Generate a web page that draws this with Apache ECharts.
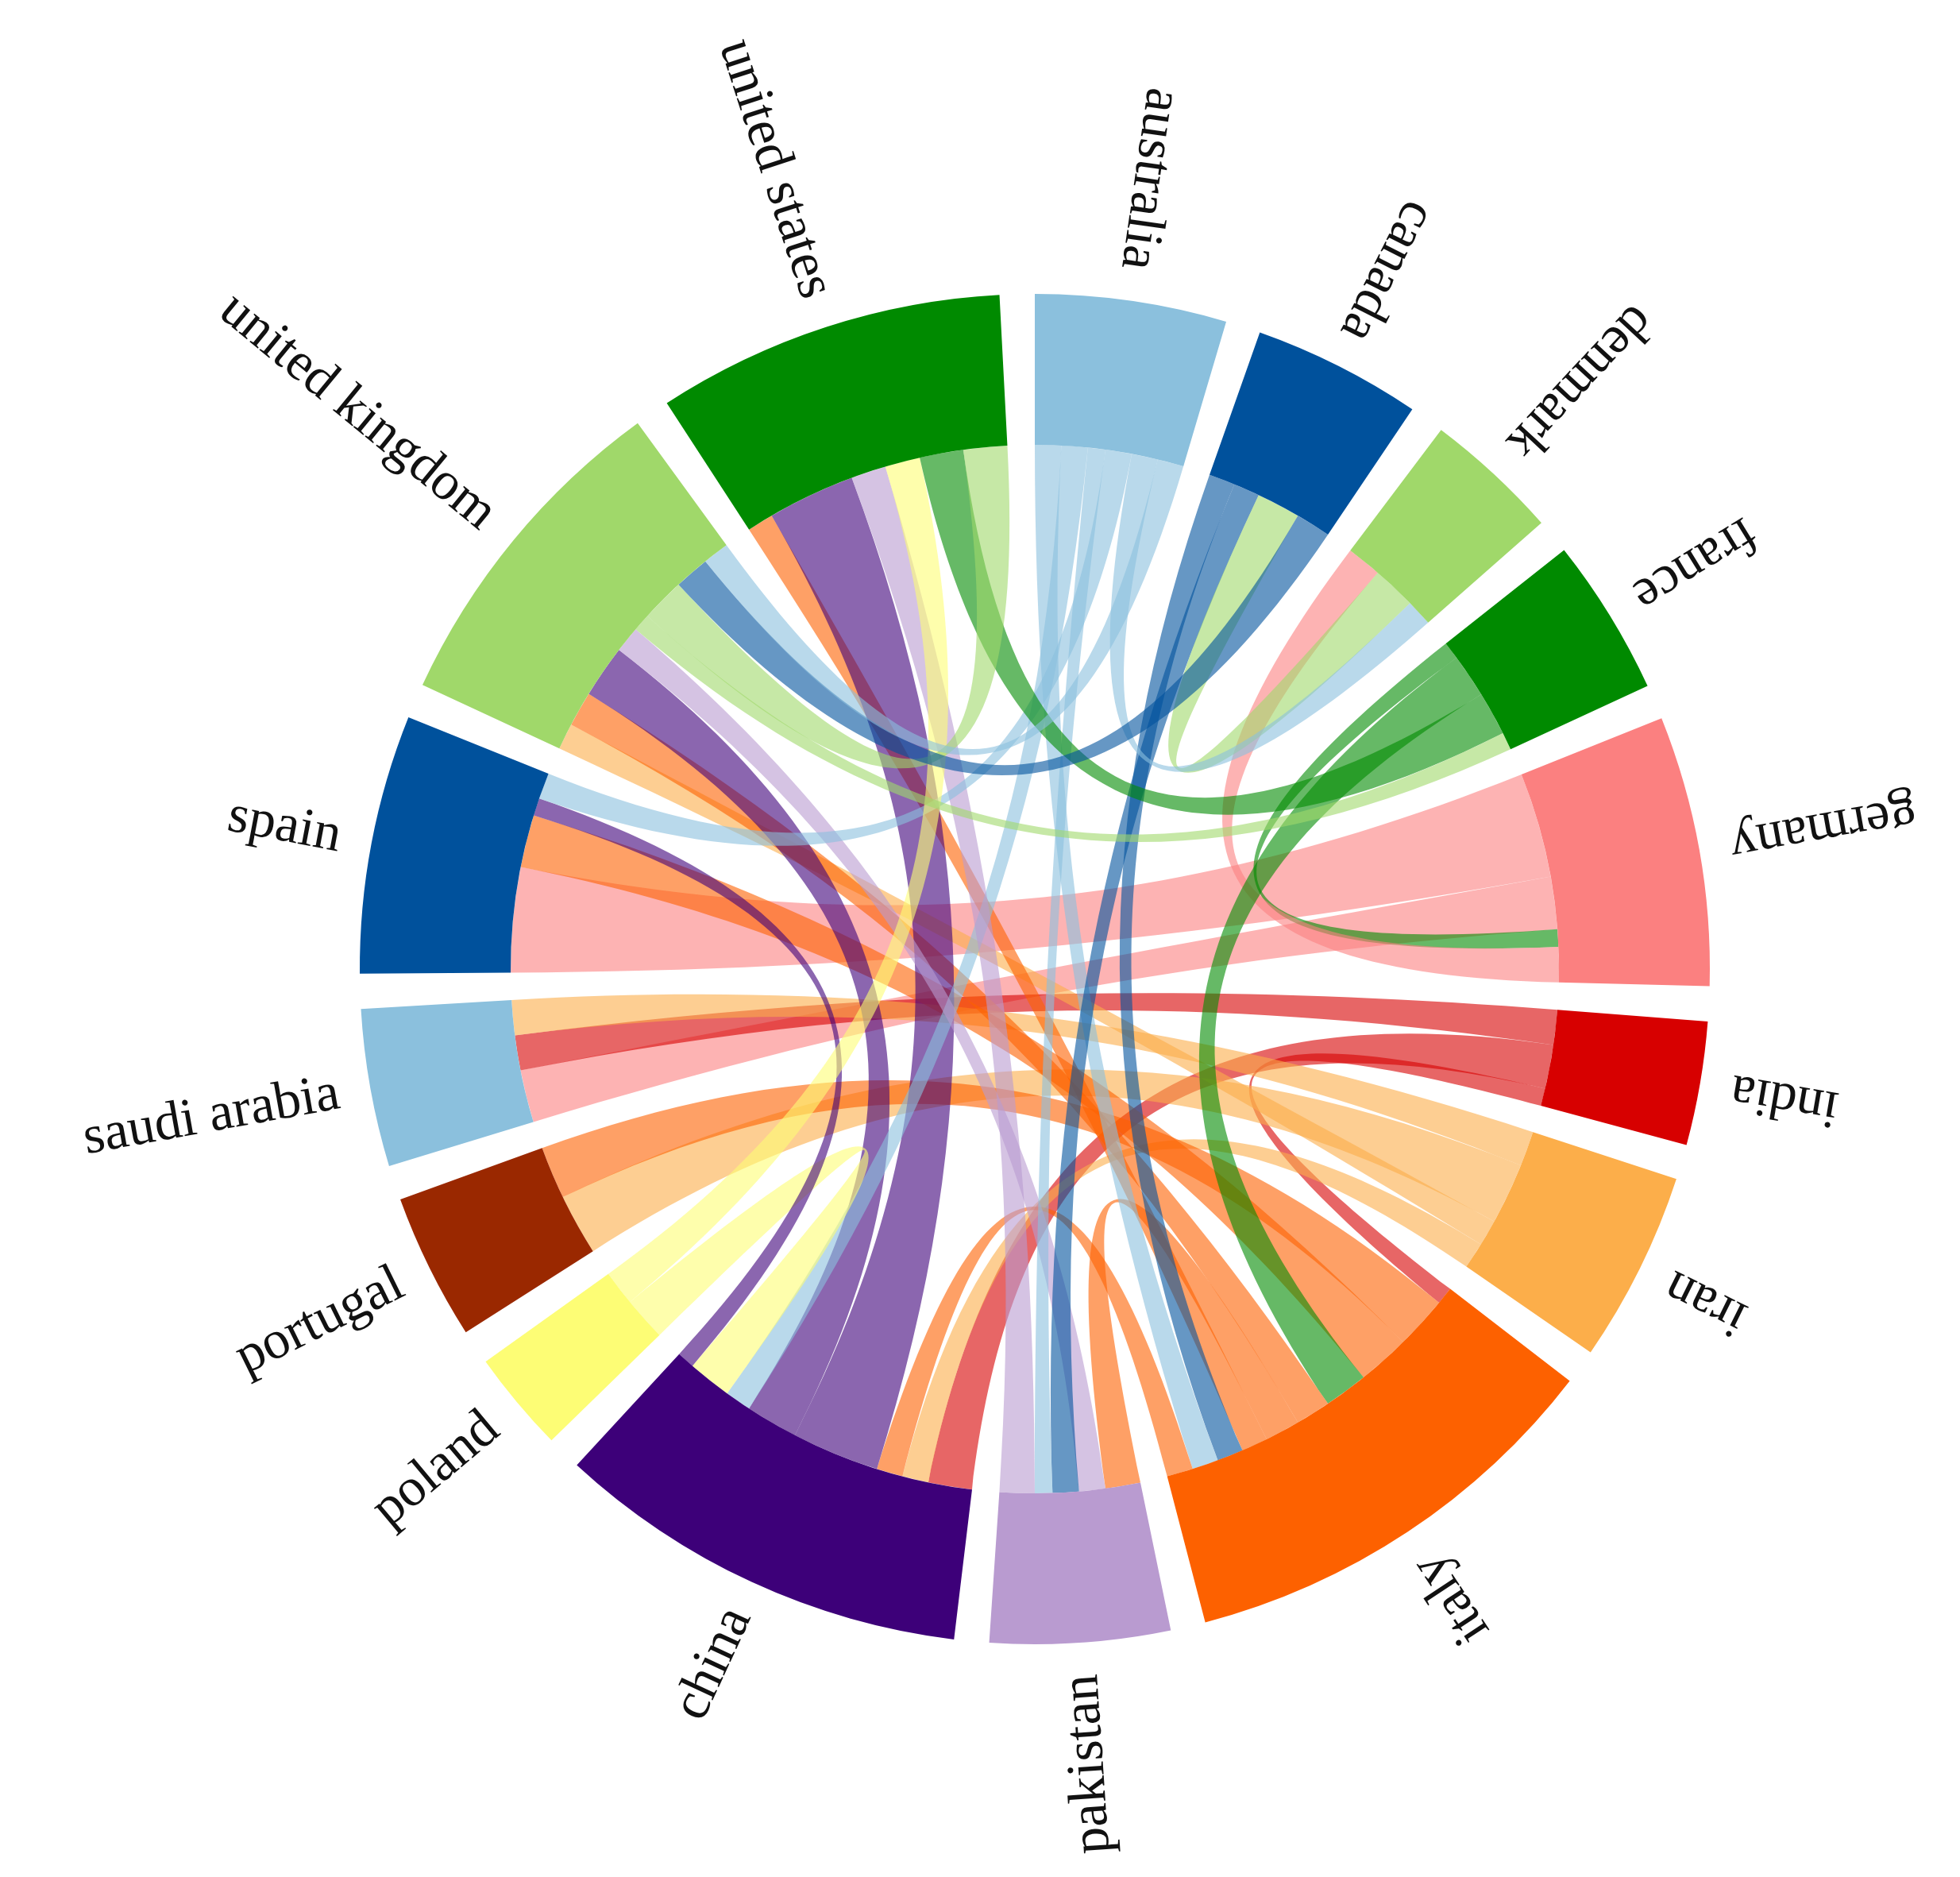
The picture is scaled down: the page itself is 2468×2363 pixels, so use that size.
<!DOCTYPE html>
<html><head><meta charset="utf-8">
<script src="https://cdn.jsdelivr.net/npm/echarts@6/dist/echarts.min.js"></script>
<style>html,body{margin:0;background:#fff}#c{width:2468px;height:2363px}</style>
</head><body><div id="c"></div>
<script>
// nodes, clockwise from the top
const countries = ['australia', 'canada', 'denmark', 'france', 'germany', 'india', 'iran', 'italy',
  'pakistan', 'china', 'poland', 'portugal', 'saudi arabia', 'spain', 'united kingdom', 'united states']
const nodeColors = ['#8bc0dd', '#00519c', '#a0d86a', '#008a00', '#fb8080', '#d70000', '#fcae4a', '#fd6100',
  '#b99bd0', '#3d0079', '#fdfd75', '#9a2800', '#8bc0dd', '#00519c', '#a0d86a', '#008a00']
// links: [source (colour owner), target, value]
const flows = [
  ['germany', 'spain', 12], ['germany', 'saudi arabia', 6], ['france', 'germany', 2], ['germany', 'denmark', 4],
  ['india', 'saudi arabia', 4], ['india', 'china', 5], ['india', 'italy', 2],
  ['iran', 'saudi arabia', 4], ['iran', 'portugal', 7], ['iran', 'united kingdom', 3], ['iran', 'china', 3],
  ['italy', 'portugal', 6], ['italy', 'spain', 6], ['france', 'italy', 5], ['italy', 'united kingdom', 4],
  ['italy', 'pakistan', 4], ['italy', 'united states', 3], ['canada', 'italy', 3], ['australia', 'italy', 3],
  ['italy', 'china', 3],
  ['china', 'united states', 10], ['china', 'united kingdom', 6], ['australia', 'china', 3], ['poland', 'china', 5],
  ['china', 'spain', 2],
  ['pakistan', 'united kingdom', 3], ['canada', 'pakistan', 3], ['australia', 'pakistan', 2], ['pakistan', 'united states', 4],
  ['australia', 'spain', 3], ['denmark', 'canada', 5], ['australia', 'denmark', 3],
  ['poland', 'united states', 4], ['united states', 'france', 5], ['united kingdom', 'france', 2],
  ['united kingdom', 'united states', 5], ['canada', 'united kingdom', 4], ['australia', 'united kingdom', 3]
]

const cx = 1303, cy = 1220, rIn = 660, rOut = 850
const pad = 3

const totals = countries.map(c => flows.reduce((s, f) => s + (f[0] === c ? f[2] : 0) + (f[1] === c ? f[2] : 0), 0))
const sum = totals.reduce((a, b) => a + b, 0)
const avail = 360 - pad * countries.length

// radial labels, reading toward the centre
const labels = []
let a = 0
countries.forEach((c, i) => {
  const span = totals[i] / sum * avail
  const mid = (a + span / 2) * Math.PI / 180
  a += span + pad
  const r = rOut + 40
  labels.push({
    type: 'text',
    x: cx + r * Math.sin(mid), y: cy - r * Math.cos(mid),
    rotation: -mid - Math.PI / 2,
    style: { text: c, font: '68px "Liberation Serif"', fill: '#111', align: 'right', verticalAlign: 'middle' }
  })
})

const chart = echarts.init(document.getElementById('c'))
chart.setOption({
  backgroundColor: '#fff',
  animation: false,
  graphic: labels,
  series: [{
    type: 'chord',
    center: [cx, cy],
    radius: [rIn, rOut],
    startAngle: 90,
    clockwise: true,
    padAngle: pad,
    minAngle: 0,
    label: { show: false },
    itemStyle: { borderWidth: 0, borderRadius: 0 },
    lineStyle: { color: 'source', opacity: 0.6 },
    data: countries.map((c, i) => ({ name: c, itemStyle: { color: nodeColors[i] } })),
    links: flows.map(f => ({ source: f[0], target: f[1], value: f[2] }))
  }]
})
</script></body></html>
